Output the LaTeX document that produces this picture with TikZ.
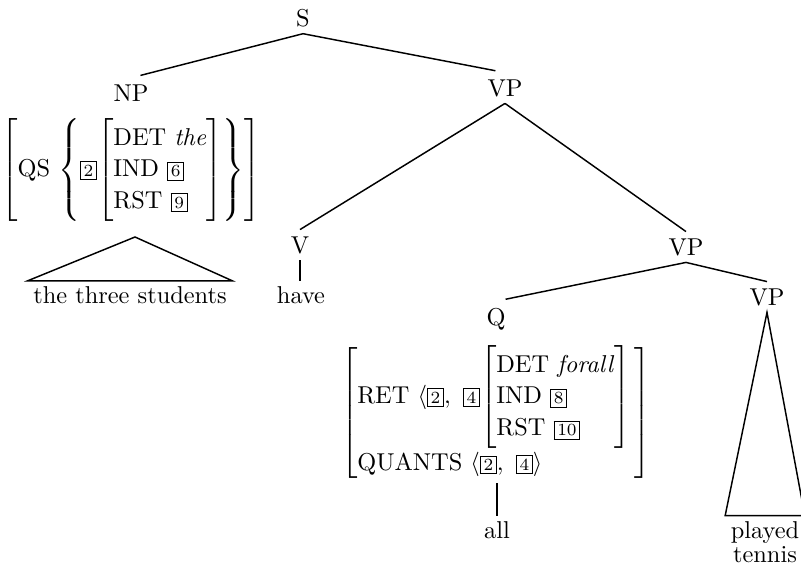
\documentclass[tikz,border=0pt]{standalone}
\usepackage{array}
\newcommand{\tg}[1]{{\setlength{\fboxsep}{1.1pt}\fbox{\scriptsize #1}}}
\newcommand{\tp}{\rule{0pt}{10pt}}
\newcommand{\bt}{\rule[-4.5pt]{0pt}{4.5pt}}
\renewcommand{\arraystretch}{1.08}
\begin{document}
\begin{tikzpicture}[x=0.41pt, y=-0.41pt, line width=0.6pt,
	cat/.style={inner sep=2.5pt},
	avm/.style={inner sep=1pt},
	words/.style={inner sep=2pt, align=center},
	far/.style={shorten >=4pt}]
	\useasboundingbox (0,0) rectangle (801,565);
	% categories
	\node (S)   at (303,  18)	[cat]	{S};
	\node (NP)  at (131,  93)	[cat]	{NP};
	\node (VP1) at (505,  88)	[cat]	{VP};
	\node (V)   at (300, 245)	[cat]	{V};
	\node (VP2) at (686, 247)	[cat]	{VP};
	\node (Q)   at (496, 319)	[cat]	{Q};
	\node (VP3) at (767, 297)	[cat]	{VP};
	% feature structures
	\node (npavm) at (131, 170)	[avm]	{$\left[\mbox{QS}\,\left\{\tg{2}\!\left[\begin{array}{@{}l@{}}\mbox{\tp DET \textit{the}}\\ \mbox{IND \tg{6}}\\ \mbox{\bt RST \tg{9}}\end{array}\right]\right\}\right]$};
	\node (qavm) at (496, 413)	[avm]	{$\left[\begin{array}{@{}l@{\,}}
		\mbox{RET }\langle\tg{2},\ \tg{4}\!\left[\begin{array}{@{}l@{}}\mbox{\tp DET \textit{forall}}\\ \mbox{IND \tg{8}}\\ \mbox{\bt RST \tg{10}}\end{array}\right]\\
		\mbox{QUANTS }\langle\tg{2},\ \tg{4}\rangle
		\end{array}\right]$};
	% words
	\node (npwords) at (130, 295)	[words]	{the three students};
	\node (have)    at (301, 295)	[words]	{have};
	\node (all)     at (497, 530)	[words]	{all};
	\node (vpwords) at (765, 542)	[words]	{played\\[-2pt]tennis};
	\coordinate (nproof) at (135, 237);
	% branches
	\draw (S.south) -- (NP.north) [far];
	\draw (S.south) -- (VP1.north) [far];
	\draw (VP1.south) -- (V.north);
	\draw (VP1.south) -- (VP2.north);
	\draw (VP2.south) -- (Q.north) [far];
	\draw (VP2.south) -- (VP3.north);
	\draw (V.south) -- (V.south |- have.north);
	\draw (all.north |- qavm.south) -- (all);
	\draw (nproof) -- (npwords.north west) -- (npwords.north east) -- cycle;
	\draw (VP3.south) -- (vpwords.north west) -- (vpwords.north east) -- cycle;
\end{tikzpicture}
\end{document}
